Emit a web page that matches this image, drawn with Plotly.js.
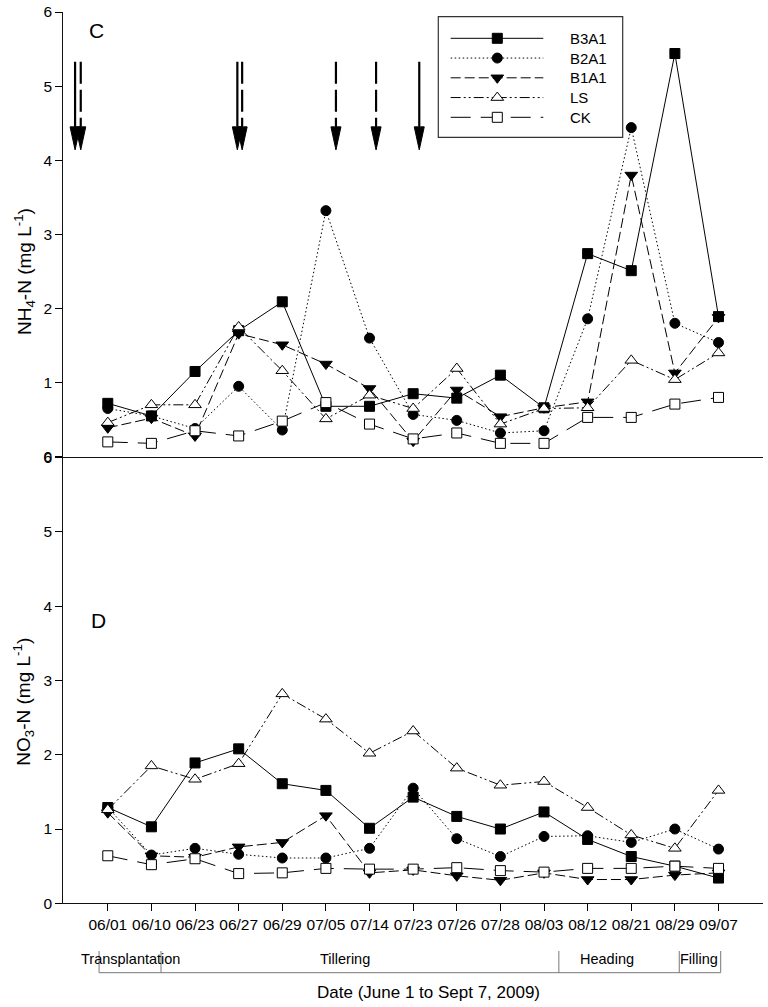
<!DOCTYPE html>
<html><head><meta charset="utf-8">
<script src="https://cdn.plot.ly/plotly-3.0.1.min.js"></script>
<style>html,body{margin:0;padding:0;background:#fff}#chart{width:768px;height:1007px}</style>
</head><body><div id="chart"></div>
<script>
// ---------------- data ----------------
const dates = ['06/01','06/10','06/23','06/27','06/29','07/05','07/14','07/23','07/26','07/28','08/03','08/12','08/21','08/29','09/07'];
const seriesNames = ['B3A1','B2A1','B1A1','LS','CK'];

// Panel C: NH4-N (mg L-1)
const nh4_B3A1 = [0.72, 0.55, 1.15, 1.70, 2.09, 0.68, 0.68, 0.85, 0.79, 1.10, 0.66, 2.74, 2.51, 5.44, 1.89];
const nh4_B2A1 = [0.65, 0.55, 0.38, 0.95, 0.36, 3.32, 1.60, 0.57, 0.49, 0.32, 0.35, 1.86, 4.44, 1.80, 1.54];
const nh4_B1A1 = [0.39, 0.52, 0.28, 1.66, 1.51, 1.25, 0.92, 0.21, 0.90, 0.54, 0.66, 0.74, 3.80, 1.13, 1.88];
const nh4_LS   = [0.46, 0.70, 0.70, 1.75, 1.16, 0.51, 0.83, 0.65, 1.19, 0.44, 0.65, 0.66, 1.30, 1.04, 1.40];
const nh4_CK   = [0.20, 0.18, 0.35, 0.28, 0.48, 0.73, 0.44, 0.24, 0.32, 0.18, 0.18, 0.53, 0.53, 0.71, 0.80];

// Panel D: NO3-N (mg L-1)
const no3_B3A1 = [1.29, 1.03, 1.89, 2.08, 1.61, 1.52, 1.01, 1.43, 1.17, 1.00, 1.23, 0.86, 0.63, 0.50, 0.34];
const no3_B2A1 = [1.29, 0.65, 0.74, 0.66, 0.61, 0.61, 0.74, 1.55, 0.87, 0.63, 0.90, 0.91, 0.82, 1.00, 0.73];
const no3_B1A1 = [1.22, 0.64, 0.62, 0.76, 0.82, 1.18, 0.41, 0.45, 0.37, 0.31, 0.41, 0.32, 0.32, 0.38, 0.41];
const no3_LS   = [1.26, 1.85, 1.67, 1.88, 2.82, 2.48, 2.02, 2.32, 1.82, 1.59, 1.64, 1.29, 0.92, 0.74, 1.52];
const no3_CK   = [0.64, 0.52, 0.60, 0.40, 0.41, 0.47, 0.46, 0.46, 0.48, 0.44, 0.42, 0.47, 0.47, 0.50, 0.47];

// growth stages (boundaries in sampling-index units)
const stageNames  = ['Transplantation','Tillering','Heading','Filling'];
const stageBounds = [-0.2, 1.22, 10.34, 13.1, 14.05];
const stageLabelAt = [0.51, 5.44, 11.45, 13.55];

// fertilisation arrows (index units), dashed or solid
const arrowAt     = [-0.75, -0.62, 2.97, 3.08, 5.23, 6.15, 7.14];
const arrowDashed = [false, true, false, true, true, true, false];

// ---------------- styles ----------------
const W = 768, H = 1007;
const FONT = 'Liberation Sans, Arial, sans-serif';
const symbols = ['square','circle','triangle-down','triangle-up','square'];
const fills   = ['#000','#000','#000','#fff','#fff'];
const sizes   = [10, 10, 11, 11, 10];
const dashes  = ['solid','1.5px,2.5px','10px,4px','10px,3px,2px,3px,2px,3px','20px,10px'];

const nh4 = [nh4_B3A1, nh4_B2A1, nh4_B1A1, nh4_LS, nh4_CK];
const no3 = [no3_B3A1, no3_B2A1, no3_B1A1, no3_LS, no3_CK];

const px = v => v / W;
const py = v => 1 - v / H;

const traces = [];
function addSeries(vals, xa, ya) {
  vals.forEach((arr, i) => {
    traces.push({
      type: 'scatter', mode: 'lines+markers', x: dates, y: arr,
      xaxis: xa, yaxis: ya, name: seriesNames[i], showlegend: false,
      line: {color: '#000', width: 1, dash: dashes[i]},
      marker: {symbol: symbols[i], size: sizes[i], color: fills[i], line: {color: '#000', width: 1}},
      cliponaxis: false, hoverinfo: 'skip'
    });
  });
}
addSeries(nh4, 'x', 'y');
addSeries(no3, 'x2', 'y2');

// custom legend (box, line samples, markers, names)
const LG = {x0: 438.3, x1: 622.7, y0: 16.7, y1: 137.3, lineX0: 450.7, lineX1: 543.3, markX: 497.3, textX: 568.3, row0: 38.3, rowStep: 19.75};
const shapes = [];
const annotations = [];
shapes.push({type: 'rect', xref: 'paper', yref: 'paper', x0: px(LG.x0), x1: px(LG.x1), y0: py(LG.y1), y1: py(LG.y0),
  line: {color: '#333', width: 1.2}, fillcolor: 'rgba(0,0,0,0)', layer: 'below'});
const legendRowsY = seriesNames.map((n, i) => LG.row0 + i * LG.rowStep);
seriesNames.forEach((n, i) => {
  shapes.push({type: 'line', xref: 'paper', yref: 'paper', x0: px(LG.lineX0), x1: px(LG.lineX1), layer: 'below',
    y0: py(legendRowsY[i]), y1: py(legendRowsY[i]), line: {color: '#000', width: 1, dash: dashes[i]}});
  annotations.push({xref: 'paper', yref: 'paper', x: px(LG.textX), y: py(legendRowsY[i]), xanchor: 'left', yanchor: 'middle',
    text: n, showarrow: false, font: {family: FONT, size: 15, color: '#000'}});
  traces.push({type: 'scatter', mode: 'markers', xaxis: 'x3', yaxis: 'y3', showlegend: false, hoverinfo: 'skip',
    x: [LG.markX], y: [legendRowsY[i]], cliponaxis: false, opacity: 1,
    marker: {symbol: symbols[i], size: sizes[i], color: fills[i], opacity: 1, line: {color: '#000', width: 1}}});
});

// fertilisation arrows
arrowAt.forEach((xa, i) => {
  shapes.push({type: 'line', xref: 'x', yref: 'y', x0: xa, x1: xa, y0: 5.33, y1: 4.25,
    line: {color: '#000', width: 2.2, dash: arrowDashed[i] ? '22px,6px' : 'solid'}});
  shapes.push({type: 'path', xref: 'x', yref: 'y', xsizemode: 'pixel', ysizemode: 'pixel', xanchor: xa, yanchor: 4.14,
    path: 'M 0 0 L -5 23 L -1.2 23 L 0 14 L 1.2 23 L 5 23 Z', fillcolor: '#000', line: {color: '#000', width: 1}});
});

// growth stage bar
shapes.push({type: 'line', xref: 'x2', yref: 'paper', x0: stageBounds[0], x1: stageBounds[stageBounds.length - 1],
  y0: py(972.7), y1: py(972.7), line: {color: '#777', width: 1}});
stageBounds.forEach(b => {
  shapes.push({type: 'line', xref: 'x2', yref: 'paper', x0: b, x1: b, y0: py(951), y1: py(972.7), line: {color: '#777', width: 1}});
});
stageNames.forEach((s, i) => {
  annotations.push({xref: 'x2', yref: 'paper', x: stageLabelAt[i], y: py(959), xanchor: 'center', yanchor: 'middle',
    text: s, showarrow: false, font: {family: FONT, size: 14.5, color: '#000'}});
});

// titles and panel labels
annotations.push({xref: 'paper', yref: 'paper', x: px(428), y: py(992.3), text: 'Date (June 1 to Sept 7, 2009)',
  showarrow: false, xanchor: 'center', yanchor: 'middle', font: {family: FONT, size: 17, color: '#000'}});
annotations.push({xref: 'paper', yref: 'paper', x: px(24), y: py(272), textangle: -90, text: 'NH<sub>4</sub>-N (mg L<sup>-1</sup>)',
  showarrow: false, xanchor: 'center', yanchor: 'middle', font: {family: FONT, size: 19, color: '#000'}});
annotations.push({xref: 'paper', yref: 'paper', x: px(24), y: py(701.7), textangle: -90, text: 'NO<sub>3</sub>-N (mg L<sup>-1</sup>)',
  showarrow: false, xanchor: 'center', yanchor: 'middle', font: {family: FONT, size: 19, color: '#000'}});
annotations.push({xref: 'paper', yref: 'paper', x: px(96.7), y: py(30), text: 'C', showarrow: false,
  xanchor: 'center', yanchor: 'middle', font: {family: FONT, size: 21, color: '#000'}});
annotations.push({xref: 'paper', yref: 'paper', x: px(98.3), y: py(620), text: 'D', showarrow: false,
  xanchor: 'center', yanchor: 'middle', font: {family: FONT, size: 21, color: '#000'}});

const xDomain = [px(63.3), px(763)];
const xRange = [-1.02, 15.02];
const tickFont = {family: FONT, size: 15.5, color: '#000'};
const baseY = {range: [0, 6], dtick: 1, tick0: 0, ticks: 'outside', ticklen: 7, tickwidth: 1, tickcolor: '#000',
  showline: true, linecolor: '#111', linewidth: 1, showgrid: false, zeroline: false, tickfont: tickFont, fixedrange: true};
const baseX = {type: 'category', categoryorder: 'array', categoryarray: dates, range: xRange, domain: xDomain,
  showline: true, linecolor: '#111', linewidth: 1, showgrid: false, zeroline: false, fixedrange: true, tickfont: tickFont};

const layout = {
  width: W, height: H, margin: {l: 0, r: 0, t: 0, b: 0}, showlegend: false,
  paper_bgcolor: '#fff', plot_bgcolor: 'rgba(0,0,0,0)', font: {family: FONT, color: '#000'},
  xaxis: Object.assign({}, baseX, {anchor: 'y', ticks: '', showticklabels: false}),
  yaxis: Object.assign({}, baseY, {anchor: 'x', domain: [py(456.7), py(12)]}),
  xaxis2: Object.assign({}, baseX, {anchor: 'y2', ticks: 'outside', ticklen: 7, tickwidth: 1, tickcolor: '#000', showticklabels: true}),
  yaxis2: Object.assign({}, baseY, {anchor: 'x2', domain: [py(903.3), py(457.7)]}),
  xaxis3: {domain: [0, 1], range: [0, W], visible: false, anchor: 'y3', fixedrange: true},
  yaxis3: {domain: [0, 1], range: [H, 0], visible: false, anchor: 'x3', fixedrange: true},
  shapes: shapes, annotations: annotations
};

Plotly.newPlot('chart', traces, layout, {staticPlot: true, displayModeBar: false});
</script>
</body></html>
